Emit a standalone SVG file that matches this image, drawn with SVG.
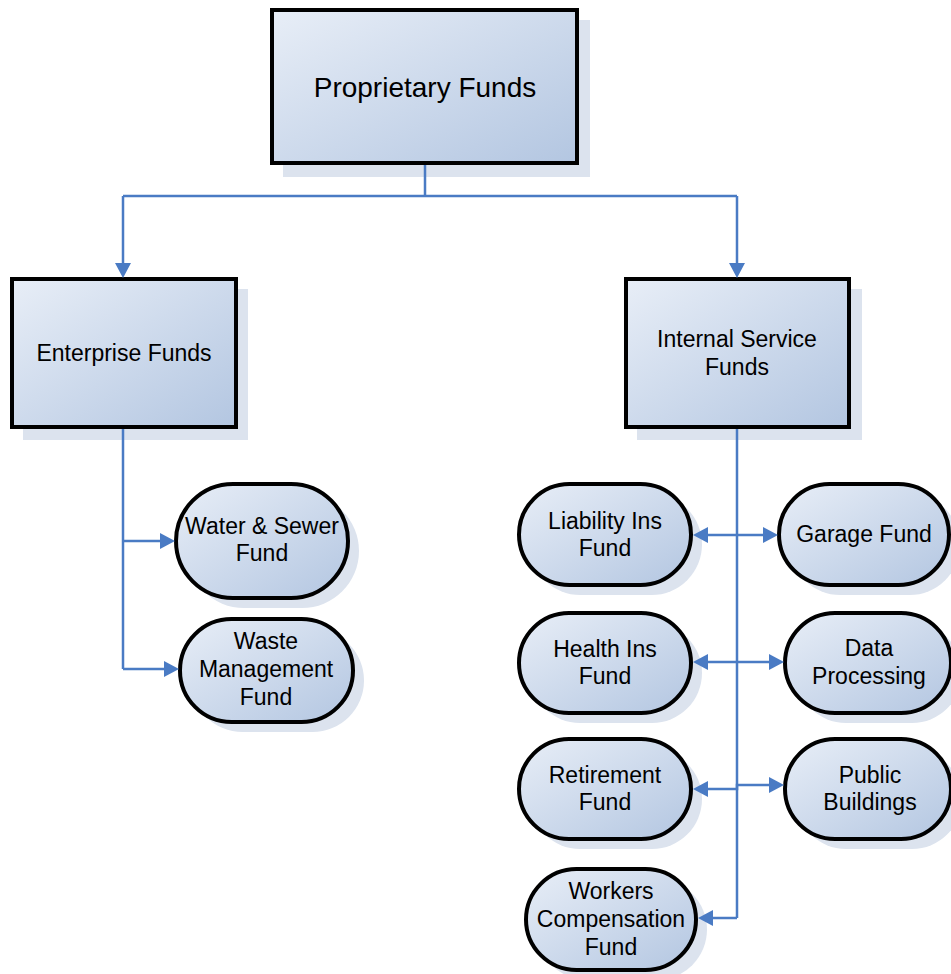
<svg xmlns="http://www.w3.org/2000/svg" width="951" height="974" viewBox="0 0 951 974">
<style>
.box{fill:url(#g);stroke:#000;stroke-width:4;stroke-linejoin:miter}
.sh{fill:#dce3ee}
.t{font-family:"Liberation Sans",Arial,sans-serif;font-size:23px;fill:#000;text-anchor:middle}
.c{fill:none;stroke:#4a7bc4;stroke-width:2.5}
.ah{fill:#4a7bc4}
</style>
<defs>
<linearGradient id="g" x1="0" y1="0" x2="1" y2="1">
<stop offset="0" stop-color="#e8eef7"/>
<stop offset="1" stop-color="#b3c6e1"/>
</linearGradient>
</defs>
<rect width="951" height="974" fill="#fff"/>
<g id="proprietary">
<rect class="sh" x="283" y="20" width="307" height="157"/>
<rect class="box" x="272" y="10" width="305" height="153"/>
<text class="t" x="425" y="97" style="font-size:28px">Proprietary Funds</text>
</g>
<g id="enterprise">
<rect class="sh" x="23" y="289" width="225" height="151"/>
<rect class="box" x="12" y="279" width="224" height="148"/>
<text class="t" x="124" y="361">Enterprise Funds</text>
</g>
<g id="internal">
<rect class="sh" x="637" y="289" width="225" height="151"/>
<rect class="box" x="626" y="279" width="223" height="148"/>
<text class="t" x="737" y="347">Internal Service</text>
<text class="t" x="737" y="375">Funds</text>
</g>
<g id="water">
<rect class="sh" x="187" y="494" width="172" height="114" rx="57"/>
<rect class="box" x="176" y="484" width="172" height="114" rx="57"/>
<text class="t" x="262" y="534">Water &amp; Sewer</text>
<text class="t" x="262" y="561">Fund</text>
</g>
<g id="waste">
<rect class="sh" x="191" y="629" width="173" height="103" rx="51.5"/>
<rect class="box" x="180" y="619" width="173" height="103" rx="51.5"/>
<text class="t" x="266" y="649">Waste</text>
<text class="t" x="266" y="677">Management</text>
<text class="t" x="266" y="705">Fund</text>
</g>
<g id="liability">
<rect class="sh" x="530" y="494" width="172" height="101" rx="50.5"/>
<rect class="box" x="519" y="484" width="172" height="101" rx="50.5"/>
<text class="t" x="605" y="529">Liability Ins</text>
<text class="t" x="605" y="556">Fund</text>
</g>
<g id="garage">
<rect class="sh" x="790" y="494" width="170" height="101" rx="50.5"/>
<rect class="box" x="779" y="484" width="170" height="101" rx="50.5"/>
<text class="t" x="864" y="542">Garage Fund</text>
</g>
<g id="health">
<rect class="sh" x="530" y="623" width="172" height="100" rx="50"/>
<rect class="box" x="519" y="613" width="172" height="100" rx="50"/>
<text class="t" x="605" y="657">Health Ins</text>
<text class="t" x="605" y="684">Fund</text>
</g>
<g id="data">
<rect class="sh" x="796" y="623" width="166" height="100" rx="50"/>
<rect class="box" x="785" y="613" width="166" height="100" rx="50"/>
<text class="t" x="869" y="656">Data</text>
<text class="t" x="869" y="684">Processing</text>
</g>
<g id="retirement">
<rect class="sh" x="530" y="749" width="172" height="100" rx="50"/>
<rect class="box" x="519" y="739" width="172" height="100" rx="50"/>
<text class="t" x="605" y="783">Retirement</text>
<text class="t" x="605" y="810">Fund</text>
</g>
<g id="public">
<rect class="sh" x="796" y="749" width="166" height="100" rx="50"/>
<rect class="box" x="785" y="739" width="166" height="100" rx="50"/>
<text class="t" x="870" y="783">Public</text>
<text class="t" x="870" y="810">Buildings</text>
</g>
<g id="workers">
<rect class="sh" x="537" y="879" width="170" height="101" rx="50.5"/>
<rect class="box" x="526" y="869" width="170" height="101" rx="50.5"/>
<text class="t" x="611" y="899">Workers</text>
<text class="t" x="611" y="927">Compensation</text>
<text class="t" x="611" y="955">Fund</text>
</g>
<g id="connectors">
<path class="c" d="M425,165 V196 M123,196 H737"/>
<path class="c" d="M123,196 V264"/>
<path class="ah" d="M115,263 L131,263 L123,278 Z"/>
<path class="c" d="M737,196 V264"/>
<path class="ah" d="M729,263 L745,263 L737,278 Z"/>
<path class="c" d="M123,429 V669"/>
<path class="c" d="M123,541 H162"/>
<path class="ah" d="M160,533 L160,549 L175,541 Z"/>
<path class="c" d="M123,669 H166"/>
<path class="ah" d="M164,661 L164,677 L179,669 Z"/>
<path class="c" d="M737,429 V918"/>
<path class="c" d="M706,535 H765"/>
<path class="ah" d="M708,527 L708,543 L693,535 Z"/>
<path class="ah" d="M763,527 L763,543 L778,535 Z"/>
<path class="c" d="M706,662 H771"/>
<path class="ah" d="M708,654 L708,670 L693,662 Z"/>
<path class="ah" d="M769,654 L769,670 L784,662 Z"/>
<path class="c" d="M706,789 H737 V785 H771"/>
<path class="ah" d="M708,781 L708,797 L693,789 Z"/>
<path class="ah" d="M769,777 L769,793 L784,785 Z"/>
<path class="c" d="M737,918 H711"/>
<path class="ah" d="M713,910 L713,926 L698,918 Z"/>
</g>
</svg>
